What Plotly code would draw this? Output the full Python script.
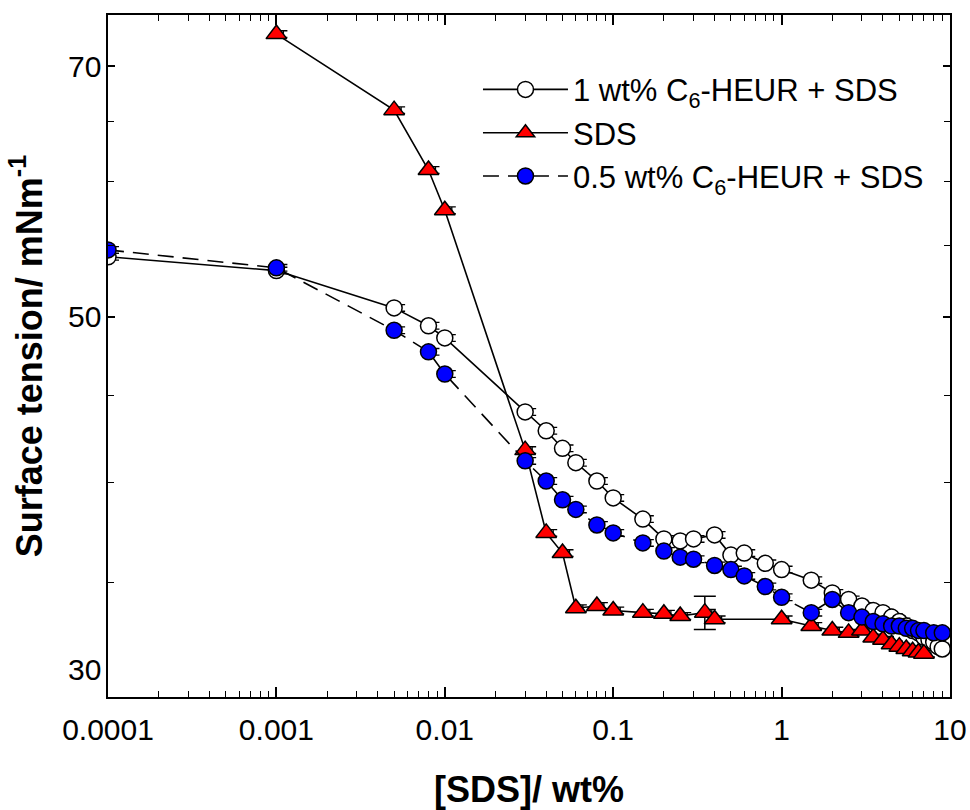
import math
import plotly.graph_objects as go

# ---------------- data ----------------
x_heur1 = [0.0001, 0.001, 0.005, 0.008, 0.01, 0.03, 0.04, 0.05, 0.06, 0.08, 0.1, 0.15, 0.2, 0.25,
           0.3, 0.4, 0.5, 0.6, 0.8, 1, 1.5, 2, 2.5, 3, 3.5, 4, 4.5, 5, 5.5, 6, 6.5, 7, 7.5, 8, 8.5, 9]
y_heur1 = [54.2, 53.2, 50.6, 49.4, 48.6, 44.0, 42.9, 41.9, 41.1, 40.1, 39.2, 38.1, 37.1, 37.0,
           37.1, 37.3, 36.3, 36.4, 35.9, 35.6, 35.1, 34.5, 34.2, 33.9, 33.7, 33.6, 33.4, 33.2, 33.0,
           32.8, 32.7, 32.5, 32.4, 32.3, 32.1, 32.0]

x_sds = [0.001, 0.005, 0.008, 0.01, 0.03, 0.04, 0.05, 0.06, 0.08, 0.1, 0.15, 0.2, 0.25, 0.35,
         0.4, 1, 1.5, 2, 2.5, 3, 3.5, 4, 4.5, 5, 5.5, 6, 6.5, 7]
y_sds = [73.1, 66.0, 60.9, 57.7, 41.8, 37.4, 36.4, 33.8, 33.9, 33.7, 33.6, 33.55, 33.45, 33.6,
         33.3, 33.3, 33.0, 32.8, 32.7, 32.8, 32.5, 32.4, 32.2, 32.1, 32.0, 31.9, 31.85, 31.8]

x_heur05 = [0.0001, 0.001, 0.005, 0.008, 0.01, 0.03, 0.04, 0.05, 0.06, 0.08, 0.1, 0.15, 0.2, 0.25,
            0.3, 0.4, 0.5, 0.6, 0.8, 1, 1.5, 2, 2.5, 3, 3.5, 4, 4.5, 5, 5.5, 6, 6.5, 7, 8, 9]
y_heur05 = [54.7, 53.4, 49.1, 47.7, 46.3, 41.2, 40.1, 39.1, 38.6, 37.8, 37.4, 36.9, 36.5, 36.2,
            36.1, 35.8, 35.6, 35.3, 34.8, 34.3, 33.6, 34.2, 33.6, 33.4, 33.2, 33.1, 33.0, 33.0,
            32.9, 32.9, 32.8, 32.8, 32.7, 32.7]

# the one large error bar on the SDS series
x_sds_bigerr = [0.35]
y_sds_bigerr = [33.6]
e_sds_bigerr = [0.75]

names = ["1 wt% C<sub>6</sub>-HEUR + SDS", "SDS", "0.5 wt% C<sub>6</sub>-HEUR + SDS"]

x_ticks = [0.0001, 0.001, 0.01, 0.1, 1, 10]
x_ticktext = ["0.0001", "0.001", "0.01", "0.1", "1", "10"]
y_ticks = [50, 70]
y_ticktext = ["50", "70"]
y_minor = [30, 35, 40, 45, 55, 60, 65]
y_label_30 = "30"

FONT = "Arial, Liberation Sans, sans-serif"
ERR_SHIFT = 10 ** (7 / 168.4)   # small error caps drawn just right of each marker

fig = go.Figure()

# small error-bar caps (drawn first, markers cover most of them)
for xs, ys in [(x_heur1, y_heur1), (x_sds, y_sds), (x_heur05, y_heur05)]:
    fig.add_trace(go.Scatter(
        x=[v * ERR_SHIFT for v in xs], y=ys, mode="markers",
        marker=dict(size=1, color="rgba(0,0,0,0)"),
        error_y=dict(type="percent", value=0.45, width=4, thickness=1.3, color="black"),
        showlegend=False, hoverinfo="skip"))

fig.add_trace(go.Scatter(
    x=x_sds_bigerr, y=y_sds_bigerr, mode="markers",
    marker=dict(size=1, color="rgba(0,0,0,0)"),
    error_y=dict(type="data", array=e_sds_bigerr, width=11, thickness=1.5, color="black"),
    showlegend=False, hoverinfo="skip"))

fig.add_trace(go.Scatter(
    x=x_heur1, y=y_heur1, mode="lines+markers", name=names[0], legendgroup="a",
    line=dict(color="black", width=1.6),
    marker=dict(symbol="circle", size=16, color="white", line=dict(color="black", width=1.5))))

fig.add_trace(go.Scatter(
    x=x_sds, y=y_sds, mode="lines+markers", name=names[1], legendgroup="b",
    line=dict(color="black", width=1.6),
    marker=dict(symbol="triangle-up", size=18, color="#FF0000", line=dict(color="black", width=1.5))))

fig.add_trace(go.Scatter(
    x=x_heur05, y=y_heur05, mode="lines+markers", name=names[2], legendgroup="c",
    line=dict(color="black", width=1.6, dash="16px,9px"),
    marker=dict(symbol="circle", size=16, color="#0000FF", line=dict(color="black", width=1.5))))

minor_x = [m * 10 ** k for k in range(-4, 1) for m in range(2, 10)]

# y tick labels as annotations (the reference draws "30" slightly above the bottom axis)
y_annots = [dict(text=t, xref="paper", yref="y", x=0, y=math.log10(v),
                 xanchor="right", yanchor="middle", xshift=-5, showarrow=False,
                 font=dict(family=FONT, size=30, color="black"))
            for v, t in zip(y_ticks, y_ticktext)]
y_annots.append(dict(text=y_label_30, xref="paper", yref="paper", x=0, y=0.0396,
                     xanchor="right", yanchor="middle", xshift=-5, showarrow=False,
                     font=dict(family=FONT, size=30, color="black")))

fig.update_layout(
    width=970, height=810,
    margin=dict(l=108, r=20, t=15, b=113),
    paper_bgcolor="white", plot_bgcolor="white",
    font=dict(family=FONT, color="black", size=30),
    showlegend=True,
    legend=dict(x=0.4394, y=0.93, xanchor="left", yanchor="top",
                bgcolor="rgba(0,0,0,0)", borderwidth=0,
                font=dict(family=FONT, size=31, color="black"),
                itemwidth=85, tracegroupgap=0, traceorder="normal"),
    xaxis=dict(
        type="log", range=[-4, 1], automargin=False,
        tickmode="array", tickvals=x_ticks, ticktext=x_ticktext,
        ticks="inside", ticklen=10, tickwidth=1.5, tickcolor="black",
        showline=True, linewidth=1.8, linecolor="black", mirror="ticks",
        showgrid=False, zeroline=False,
        tickfont=dict(family=FONT, size=30), ticklabelstandoff=5,
        minor=dict(tickmode="array", tickvals=minor_x, ticks="inside", ticklen=6,
                   tickwidth=1.2, tickcolor="black", showgrid=False),
        title=dict(text="[SDS]/ wt%", font=dict(family=FONT, size=36, weight="bold"), standoff=38),
    ),
    yaxis=dict(
        type="log", range=[1.47712, 1.87506], automargin=False,
        tickmode="array", tickvals=y_ticks, ticktext=y_ticktext, showticklabels=False,
        ticks="inside", ticklen=7, tickwidth=1.5, tickcolor="black",
        showline=True, linewidth=1.8, linecolor="black", mirror="ticks",
        showgrid=False, zeroline=False,
        minor=dict(tickmode="array", tickvals=y_minor, ticks="inside", ticklen=6,
                   tickwidth=1.2, tickcolor="black", showgrid=False),
        title=dict(text="Surface tension/ mNm<sup>-1</sup>",
                   font=dict(family=FONT, size=36, weight="bold"), standoff=53),
    ),
    annotations=y_annots,
)

fig.write_html("out.html")
